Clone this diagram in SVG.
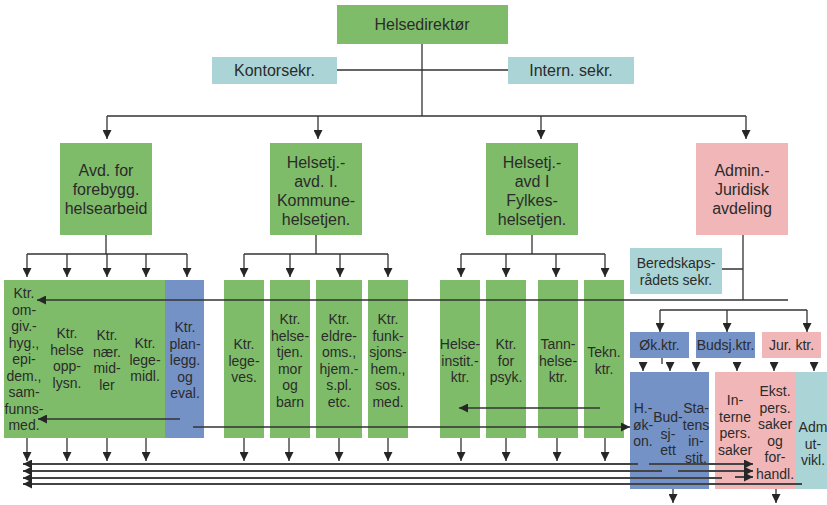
<svg xmlns="http://www.w3.org/2000/svg" width="827" height="505" viewBox="0 0 827 505">
<defs>
<marker id="ah" viewBox="0 0 10 10" refX="10" refY="5" markerWidth="9" markerHeight="9" markerUnits="userSpaceOnUse" orient="auto"><path d="M0,0 L10,5 L0,10 z" fill="#262626"/></marker>
<style>
.g{fill:#7fbc69}.b{fill:#7492c6}.p{fill:#f1b7b8}.t{fill:#aad4d5}
text{font-family:"Liberation Sans",Arial,sans-serif;fill:#2b2b2b;text-anchor:middle}
.f16{font-size:16px}.f14{font-size:14px}
.c{stroke:#333;stroke-width:1.3;fill:none}
.a{stroke:#333;stroke-width:1.3;fill:none;marker-end:url(#ah)}
.bl{stroke:#444;stroke-width:2;fill:none}
.ba{stroke:#444;stroke-width:2;fill:none;marker-end:url(#ah)}
</style>
</defs>
<rect width="827" height="505" fill="#fff"/>

<g id="n-helsedirektor"><rect class="g" x="337" y="5" width="171" height="39"/><text class="f16" x="422" y="30">Helsedirektør</text></g>
<g id="n-kontorsekr"><rect class="t" x="212" y="57" width="125" height="27"/><text class="f16" x="274.5" y="76">Kontorsekr.</text></g>
<g id="n-internsekr"><rect class="t" x="508" y="57" width="126" height="27"/><text class="f16" x="571" y="76">Intern. sekr.</text></g>

<g id="n-avd-forebygg"><rect class="g" x="60" y="143" width="92" height="92"/><text class="f16" x="106" y="176"><tspan x="106">Avd. for</tspan><tspan x="106" dy="19">forebygg.</tspan><tspan x="106" dy="19">helsearbeid</tspan></text></g>
<g id="n-avd-kommune"><rect class="g" x="270" y="143" width="92" height="92"/><text class="f16" x="316" y="167.5"><tspan x="316">Helsetj.-</tspan><tspan x="316" dy="19">avd. I.</tspan><tspan x="316" dy="19">Kommune-</tspan><tspan x="316" dy="19">helsetjen.</tspan></text></g>
<g id="n-avd-fylkes"><rect class="g" x="486" y="143" width="92" height="92"/><text class="f16" x="532" y="167.5"><tspan x="532">Helsetj.-</tspan><tspan x="532" dy="19">avd I</tspan><tspan x="532" dy="19">Fylkes-</tspan><tspan x="532" dy="19">helsetjen.</tspan></text></g>
<g id="n-avd-admin"><rect class="p" x="696" y="143" width="92" height="92"/><text class="f16" x="742" y="176"><tspan x="742">Admin.-</tspan><tspan x="742" dy="19">Juridisk</tspan><tspan x="742" dy="19">avdeling</tspan></text></g>
<g id="n-beredskap"><rect class="t" x="630" y="248" width="92" height="46"/><text class="f14" x="676" y="268"><tspan x="676">Beredskaps-</tspan><tspan x="676" dy="17">rådets sekr.</tspan></text></g>

<g id="n-omgiv"><rect class="g" x="4" y="280" width="161" height="158"/><text class="f14" x="24" y="298"><tspan x="24">Ktr.</tspan><tspan x="24" dy="16.5">om-</tspan><tspan x="24" dy="16.5">giv.-</tspan><tspan x="24" dy="16.5">hyg.,</tspan><tspan x="24" dy="16.5">epi-</tspan><tspan x="24" dy="16.5">dem.,</tspan><tspan x="24" dy="16.5">sam-</tspan><tspan x="24" dy="16.5">funns-</tspan><tspan x="24" dy="16.5">med.</tspan></text></g>
<g id="n-helseopplysn"><text class="f14" x="67" y="338"><tspan x="67">Ktr.</tspan><tspan x="67" dy="16.5">helse</tspan><tspan x="67" dy="16.5">opp-</tspan><tspan x="67" dy="16.5">lysn.</tspan></text></g>
<g id="n-naermidler"><text class="f14" x="107" y="340"><tspan x="107">Ktr.</tspan><tspan x="107" dy="16.5">nær.</tspan><tspan x="107" dy="16.5">mid-</tspan><tspan x="107" dy="16.5">ler</tspan></text></g>
<g id="n-legemidl"><text class="f14" x="145" y="348"><tspan x="145">Ktr.</tspan><tspan x="145" dy="16.5">lege-</tspan><tspan x="145" dy="16.5">midl.</tspan></text></g>
<g id="n-planlegg"><rect class="b" x="165" y="280" width="39" height="158"/><text class="f14" x="185" y="332"><tspan x="185">Ktr.</tspan><tspan x="185" dy="16.5">plan-</tspan><tspan x="185" dy="16.5">legg.</tspan><tspan x="185" dy="16.5">og</tspan><tspan x="185" dy="16.5">eval.</tspan></text></g>

<g id="n-legeves"><rect class="g" x="224" y="280" width="40" height="158"/><text class="f14" x="244" y="349"><tspan x="244">Ktr.</tspan><tspan x="244" dy="16.5">lege-</tspan><tspan x="244" dy="16.5">ves.</tspan></text></g>
<g id="n-morbarn"><rect class="g" x="270" y="280" width="40" height="158"/><text class="f14" x="290" y="324"><tspan x="290">Ktr.</tspan><tspan x="290" dy="16.5">helse-</tspan><tspan x="290" dy="16.5">tjen.</tspan><tspan x="290" dy="16.5">mor</tspan><tspan x="290" dy="16.5">og</tspan><tspan x="290" dy="16.5">barn</tspan></text></g>
<g id="n-eldre"><rect class="g" x="316" y="280" width="46" height="158"/><text class="f14" x="339" y="324"><tspan x="339">Ktr.</tspan><tspan x="339" dy="16.5">eldre-</tspan><tspan x="339" dy="16.5">oms.,</tspan><tspan x="339" dy="16.5">hjem.-</tspan><tspan x="339" dy="16.5">s.pl.</tspan><tspan x="339" dy="16.5">etc.</tspan></text></g>
<g id="n-funksjon"><rect class="g" x="368" y="280" width="40" height="158"/><text class="f14" x="388" y="324"><tspan x="388">Ktr.</tspan><tspan x="388" dy="16.5">funk-</tspan><tspan x="388" dy="16.5">sjons-</tspan><tspan x="388" dy="16.5">hem.,</tspan><tspan x="388" dy="16.5">sos.</tspan><tspan x="388" dy="16.5">med.</tspan></text></g>

<g id="n-helseinstit"><rect class="g" x="440" y="280" width="40" height="158"/><text class="f14" x="460" y="349"><tspan x="460">Helse-</tspan><tspan x="460" dy="16.5">instit.-</tspan><tspan x="460" dy="16.5">ktr.</tspan></text></g>
<g id="n-psyk"><rect class="g" x="486" y="280" width="40" height="158"/><text class="f14" x="506" y="349"><tspan x="506">Ktr.</tspan><tspan x="506" dy="16.5">for</tspan><tspan x="506" dy="16.5">psyk.</tspan></text></g>
<g id="n-tannhelse"><rect class="g" x="538" y="280" width="40" height="158"/><text class="f14" x="558" y="349"><tspan x="558">Tann-</tspan><tspan x="558" dy="16.5">helse-</tspan><tspan x="558" dy="16.5">ktr.</tspan></text></g>
<g id="n-tekn"><rect class="g" x="584" y="280" width="40" height="158"/><text class="f14" x="604" y="357"><tspan x="604">Tekn.</tspan><tspan x="604" dy="16.5">ktr.</tspan></text></g>

<g id="n-okktr"><rect class="b" x="630" y="332" width="59" height="26"/><text class="f14" x="659.5" y="350">Øk.ktr.</text></g>
<g id="n-budsjktr"><rect class="b" x="696" y="332" width="59" height="26"/><text class="f14" x="725.5" y="350">Budsj.ktr.</text></g>
<g id="n-jurktr"><rect class="p" x="762" y="332" width="59" height="26"/><text class="f14" x="791.5" y="350">Jur. ktr.</text></g>

<g id="n-okonomi"><rect class="b" x="630" y="372" width="79" height="117"/><text class="f14" x="643" y="413"><tspan x="643">H.-</tspan><tspan x="643" dy="16.5">øk-</tspan><tspan x="643" dy="16.5">on.</tspan></text><text class="f14" x="668" y="422"><tspan x="668">Bud-</tspan><tspan x="668" dy="16.5">sj-</tspan><tspan x="668" dy="16.5">ett</tspan></text><text class="f14" x="696" y="413"><tspan x="696">Sta-</tspan><tspan x="696" dy="16.5">tens</tspan><tspan x="696" dy="16.5">in-</tspan><tspan x="696" dy="16.5">stit.</tspan></text></g>
<g id="n-juridisk"><rect class="p" x="715" y="372" width="81" height="117"/><text class="f14" x="735" y="405"><tspan x="735">In-</tspan><tspan x="735" dy="16.5">terne</tspan><tspan x="735" dy="16.5">pers.</tspan><tspan x="735" dy="16.5">saker</tspan></text><text class="f14" x="775" y="396"><tspan x="775">Ekst.</tspan><tspan x="775" dy="16.5">pers.</tspan><tspan x="775" dy="16.5">saker</tspan><tspan x="775" dy="16.5">og</tspan><tspan x="775" dy="16.5">for-</tspan><tspan x="775" dy="16.5">handl.</tspan></text></g>
<g id="n-admutvikl"><rect class="t" x="796" y="372" width="31" height="117"/><text class="f14" x="813" y="432"><tspan x="813">Adm</tspan><tspan x="813" dy="16.5">ut-</tspan><tspan x="813" dy="16.5">vikl.</tspan></text></g>

<g id="connectors">
<path class="c" d="M422,44 V116 M337,70 H508 M107,116 H746"/>
<path class="a" d="M107,116 V139"/><path class="a" d="M318,116 V139"/><path class="a" d="M541,116 V139"/><path class="a" d="M746,116 V139"/>
<path class="c" d="M106,235 V254 M27,254 H187 M316,235 V254 M244,254 H388 M532,235 V254 M461,254 H605 M743,235 V300 M722,269 H743"/>
<path class="a" d="M27,254 V277"/><path class="a" d="M67,254 V277"/><path class="a" d="M107,254 V277"/><path class="a" d="M146,254 V277"/><path class="a" d="M187,254 V277"/>
<path class="a" d="M244,254 V277"/><path class="a" d="M290,254 V277"/><path class="a" d="M340,254 V277"/><path class="a" d="M388,254 V277"/>
<path class="a" d="M461,254 V277"/><path class="a" d="M506,254 V277"/><path class="a" d="M556,254 V277"/><path class="a" d="M605,254 V277"/>
<path class="a" d="M788,300 H37"/>
<path class="c" d="M660,310 H807"/>
<path class="a" d="M660,310 V332"/><path class="a" d="M727,310 V332"/><path class="a" d="M807,310 V332"/>
<path class="c" d="M662,358 V364"/>
<path class="a" d="M643,362 V371"/><path class="a" d="M670,362 V371"/><path class="a" d="M696,362 V371"/><path class="a" d="M737,362 V371"/><path class="a" d="M774,362 V371"/><path class="a" d="M814,362 V371"/>
<path class="a" d="M180,419 H38"/>
<path class="a" d="M193,427 H630"/>
<path class="a" d="M600,408 H459"/>
<path class="a" d="M27,438 V461"/><path class="a" d="M67,438 V461"/><path class="a" d="M107,438 V461"/><path class="a" d="M146,438 V461"/>
<path class="a" d="M244,438 V461"/><path class="a" d="M289,438 V461"/><path class="a" d="M339,438 V461"/><path class="a" d="M388,438 V461"/>
<path class="a" d="M461,438 V461"/><path class="a" d="M506,438 V461"/><path class="a" d="M557,438 V461"/><path class="a" d="M605,438 V461"/>
<path class="a" d="M673,489 V503"/><path class="a" d="M776,489 V503"/>
<path class="ba" d="M638,464 H23"/><path class="ba" d="M662,471 H23"/><path class="ba" d="M722,478 H23"/><path class="ba" d="M802,484 H23"/>
<path class="ba" d="M649,464 H753"/><path class="ba" d="M678,471 H753"/><path class="ba" d="M735,477 H753"/>
</g>
</svg>
